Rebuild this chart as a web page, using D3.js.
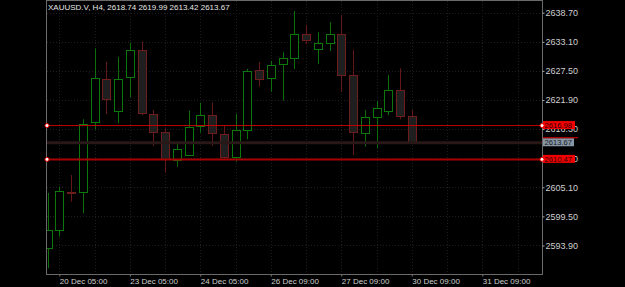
<!DOCTYPE html>
<html>
<head>
<meta charset="utf-8">
<script src="https://cdn.jsdelivr.net/npm/d3@7/dist/d3.min.js"></script>
<style>
  body { margin: 0; background: #000; }
  svg { display: block; }
  text { font-family: "Liberation Sans", Arial, sans-serif; }
</style>
</head>
<body>
<script>
// H4 candles, oldest first
const opens  = [2593.47, 2597.02, 2604.20, 2604.10, 2617.67, 2625.88, 2619.84, 2626.27,
                2631.52, 2619.21, 2615.74, 2610.35, 2611.45, 2616.90, 2618.96, 2615.36,
                2610.99, 2616.13, 2627.62, 2626.00, 2628.77, 2629.93, 2634.54, 2631.66,
                2632.81, 2634.54, 2626.71, 2615.49, 2618.57, 2619.73, 2623.82, 2618.74];
const highs  = [2604.00, 2605.21, 2607.47, 2618.19, 2631.85, 2629.27, 2630.23, 2632.93,
                2633.12, 2619.98, 2616.45, 2613.57, 2619.84, 2621.38, 2621.38, 2616.90,
                2619.21, 2627.87, 2629.21, 2629.41, 2631.08, 2639.03, 2636.33, 2634.93,
                2636.91, 2638.26, 2631.52, 2619.98, 2621.71, 2626.71, 2628.00, 2619.99];
const lows   = [2589.51, 2595.59, 2602.33, 2600.09, 2616.26, 2619.21, 2617.42, 2622.42,
                2619.01, 2613.05, 2607.91, 2609.06, 2611.31, 2615.61, 2613.05, 2610.35,
                2610.03, 2614.34, 2624.46, 2623.50, 2621.77, 2627.87, 2632.62, 2628.83,
                2631.33, 2623.50, 2611.31, 2612.91, 2612.60, 2619.01, 2618.19, 2613.42];
const closes = [2596.88, 2604.44, 2604.10, 2617.22, 2626.08, 2621.96, 2626.00, 2631.52,
                2619.34, 2615.68, 2610.49, 2612.47, 2616.76, 2618.96, 2615.41, 2610.99,
                2616.13, 2627.48, 2625.94, 2628.58, 2629.93, 2634.54, 2633.31, 2632.81,
                2634.54, 2626.58, 2615.68, 2618.57, 2620.36, 2623.82, 2618.88, 2613.67];

// axis ticks
const priceTicks = [2593.90, 2599.50, 2605.10, 2610.70, 2616.30, 2621.90, 2627.50, 2633.10, 2638.70];
const timeTickIdx = [1, 7, 13, 19, 25, 31, 37];
const timeTickLabels = ["20 Dec 05:00", "23 Dec 05:00", "24 Dec 05:00", "26 Dec 09:00",
                        "27 Dec 09:00", "30 Dec 09:00", "31 Dec 09:00"];

// horizontal levels
const upperLevel = 2616.98;
const lowerLevel = 2610.47;
const lastPrice = 2613.67;

const W = 625, H = 287;
const plot = {left: 47, right: 543, top: 1, bottom: 275};

const svg = d3.select("body").append("svg")
  .attr("width", W).attr("height", H)
  .style("background", "#000");

const x = d3.scaleLinear().domain([-0.05, 42.17]).range([plot.left, plot.right]);
const y = d3.scaleLinear().domain([2588.22, 2640.95]).range([plot.bottom, plot.top]);

svg.append("clipPath").attr("id", "clip")
  .append("rect")
  .attr("x", plot.left).attr("y", plot.top)
  .attr("width", plot.right - plot.left).attr("height", plot.bottom - plot.top);

// grid (faint dotted)
const grid = svg.append("g");
grid.selectAll(".hg").data(priceTicks).enter().append("line")
  .attr("x1", plot.left).attr("x2", plot.right)
  .attr("y1", d => Math.round(y(d)) + 0.5).attr("y2", d => Math.round(y(d)) + 0.5)
  .attr("stroke", "#1e1e1e").attr("stroke-dasharray", "1,2");
grid.selectAll(".vg").data(d3.range(1, 42, 3)).enter().append("line")
  .attr("x1", d => Math.round(x(d)) + 0.5).attr("x2", d => Math.round(x(d)) + 0.5)
  .attr("y1", plot.top).attr("y2", plot.bottom)
  .attr("stroke", "#1e1e1e").attr("stroke-dasharray", "1,2");

// candles
const candles = opens.map((o, i) => ({i: i, o: o, h: highs[i], l: lows[i], c: closes[i]}));
const cg = svg.append("g").attr("clip-path", "url(#clip)");

cg.selectAll(".wick").data(candles).enter().append("line")
  .attr("x1", d => Math.round(x(d.i)) + 0.5).attr("x2", d => Math.round(x(d.i)) + 0.5)
  .attr("y1", d => y(d.h)).attr("y2", d => y(d.l))
  .attr("stroke", d => d.c >= d.o ? "#0b6e0b" : "#641818");

cg.selectAll(".body").data(candles).enter().append("rect")
  .attr("x", d => Math.round(x(d.i)) - 3.5)
  .attr("width", 8)
  .attr("y", d => Math.round(y(Math.max(d.o, d.c))) + 0.5)
  .attr("height", d => Math.max(0.5, Math.round(Math.abs(y(d.o) - y(d.c)))))
  .attr("fill", d => d.c >= d.o ? "#000" : "#1f1f1f")
  .attr("stroke", d => d.c >= d.o ? "#0c780c" : "#6e1c1c");

// level lines
svg.append("line")
  .attr("x1", plot.left).attr("x2", plot.right)
  .attr("y1", y(lastPrice)).attr("y2", y(lastPrice))
  .attr("stroke", "#2a1818").attr("stroke-width", 3);
svg.append("line")
  .attr("x1", plot.left).attr("x2", plot.right)
  .attr("y1", y(upperLevel)).attr("y2", y(upperLevel))
  .attr("stroke", "#c00000").attr("stroke-width", 1);
svg.append("line")
  .attr("x1", plot.left).attr("x2", plot.right)
  .attr("y1", y(lowerLevel)).attr("y2", y(lowerLevel))
  .attr("stroke", "#a80000").attr("stroke-width", 2);

// frame
svg.append("rect")
  .attr("x", plot.left - 0.5).attr("y", plot.top - 0.5)
  .attr("width", plot.right - plot.left).attr("height", plot.bottom - plot.top)
  .attr("fill", "none").attr("stroke", "#6a6a6a");

// right price axis
const yAxis = d3.axisRight(y).tickValues(priceTicks).tickSize(2).tickPadding(1)
  .tickFormat(d3.format(".2f"));
const ya = svg.append("g").attr("transform", "translate(" + (plot.right - 0.5) + ",0)").call(yAxis);
ya.select(".domain").remove();
ya.selectAll("line").attr("stroke", "#aaa");
ya.selectAll("text").attr("fill", "#cfcfcf").style("font-size", "9px")
  .style("font-family", "'Liberation Sans', Arial, sans-serif");

// bottom time axis
const xAxis = d3.axisBottom(x).tickValues(timeTickIdx).tickSize(2).tickPadding(2)
  .tickFormat((d, k) => timeTickLabels[k]);
const xa = svg.append("g").attr("transform", "translate(0," + (plot.bottom - 0.5) + ")").call(xAxis);
xa.select(".domain").remove();
xa.selectAll("line").attr("stroke", "#777");
xa.selectAll("text").attr("fill", "#cfcfcf").style("font-size", "8px")
  .style("font-family", "'Liberation Sans', Arial, sans-serif")
  .attr("text-anchor", "start");

// price tags on the right
function tag(value, bg, fg, w) {
  const g = svg.append("g").attr("transform", "translate(" + plot.right + "," + y(value) + ")");
  g.append("rect").attr("x", 0).attr("y", -4.5).attr("width", w).attr("height", 8).attr("fill", bg);
  g.append("text").attr("x", 1.5).attr("y", 2.5).attr("fill", fg)
    .style("font-size", "7.6px").text(d3.format(".2f")(value));
  return g;
}
tag(lastPrice, "#8797a6", "#1a1a1a", 31);
svg.append("line")
  .attr("x1", plot.right).attr("x2", plot.right + 35)
  .attr("y1", y(lastPrice) - 5).attr("y2", y(lastPrice) - 5)
  .attr("stroke", "#e00000");
tag(upperLevel, "#f00000", "#300000", 32);
tag(lowerLevel, "#f00000", "#300000", 32);

// level markers
[upperLevel, lowerLevel].forEach(v => {
  [plot.left, plot.right - 1].forEach(px => {
    svg.append("circle").attr("cx", px).attr("cy", y(v)).attr("r", 2)
      .attr("fill", "#fff").attr("stroke", "#f00000").attr("stroke-width", 1);
  });
});

// title
svg.append("text")
  .attr("x", 48).attr("y", 10)
  .attr("fill", "#e6e6e6").style("font-size", "8px")
  .text("XAUUSD.V, H4, " + [opens[31], highs[31], lows[31], closes[31]].map(d3.format(".2f")).join(" "));
</script>
</body>
</html>
